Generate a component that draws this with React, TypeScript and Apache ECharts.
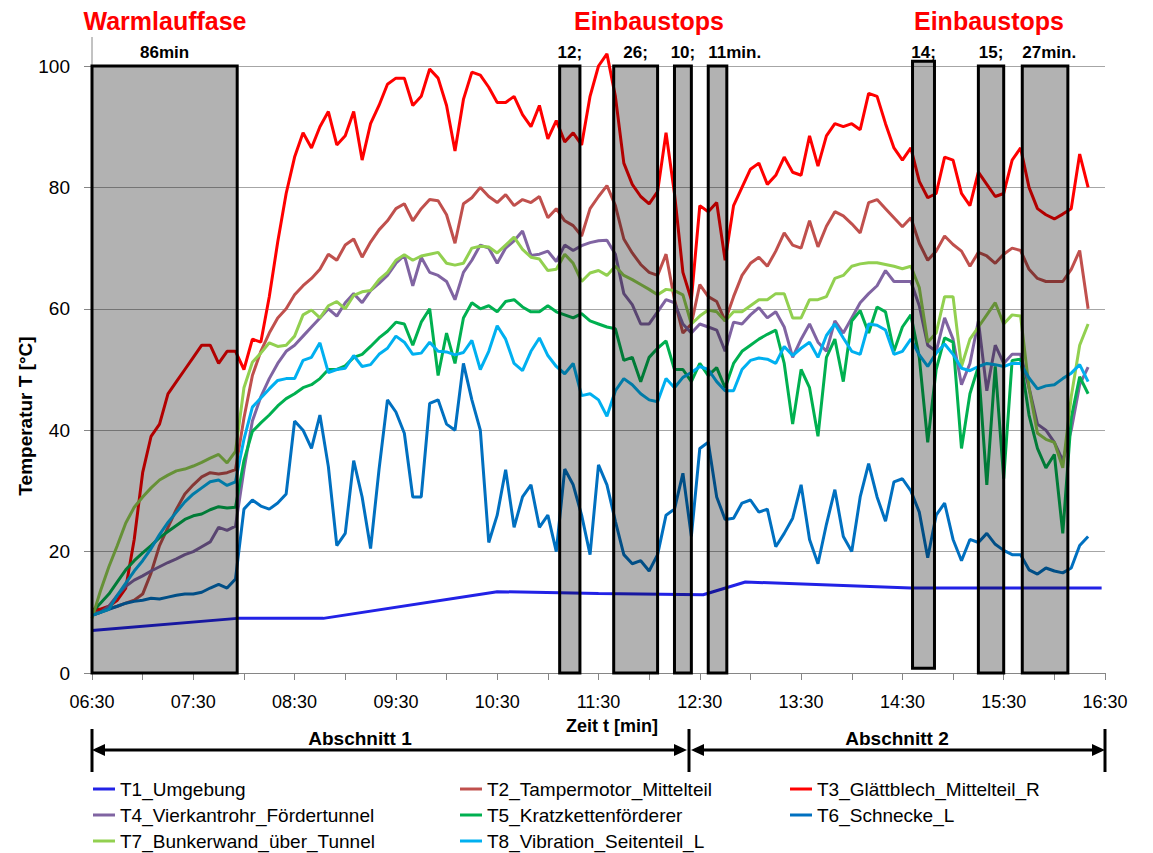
import React, { useEffect, useRef } from 'react';
import * as echarts from 'echarts';

const FONT = "'Liberation Sans', Arial, sans-serif";

// minutes after 06:30, 5-minute grid
const times: number[] = Array.from({ length: 119 }, (_, i) => i * 5);

const t1Times = [0, 86, 137, 240, 300, 362, 387, 485, 598];
const t1Values = [7, 9, 9, 13.4, 13.1, 12.9, 15, 14, 14];

const t2Values = [
  10, 10.3, 10.6, 11, 11.5, 12, 13, 16.5, 21, 24,
  27, 29.5, 31, 32.3, 33, 32.8, 33, 33.5, 42, 49,
  53, 56, 58.5, 60, 62.3, 63.8, 65, 66.5, 69, 68,
  70.5, 71.5, 68.5, 71, 73, 74.5, 76.5, 77.3, 74.5, 76.5,
  78, 77.8, 75.5, 70.8, 77.3, 78.3, 80, 78.5, 77.5, 78.8,
  77, 78, 77.5, 78.5, 75, 76.5, 74.5, 73.7, 72, 76.5,
  78.5, 80.3, 77, 71.5, 69.2, 67.3, 66, 65.5, 69, 61.5,
  56, 57.5, 64, 62, 61.2, 58, 62, 65.5, 67.5, 68.5,
  67, 69.5, 72.5, 70.5, 70, 74.5, 70.2, 73.6, 76, 75.3,
  74, 72.5, 77.5, 78, 76.5, 75, 73.5, 75, 70.8, 68,
  69.5, 72, 70.6, 69.5, 67, 69.3, 68.7, 67.5, 69, 70,
  69.6, 66.5, 65, 64.5, 64.5, 64.5, 66.5, 69.6, 60,
];

const t3Values = [
  10.5, 10.5, 11, 12, 14, 22, 33, 39, 41, 46,
  48, 50, 52, 54, 54, 51, 53, 53, 50, 55,
  54.5, 62, 71, 79, 85, 89, 86.5, 90, 92.5, 87,
  88.5, 92.5, 84.5, 90.5, 93.5, 97, 98, 98, 93.5, 95,
  99.5, 98, 93.5, 86, 94.5, 99, 98.5, 96.5, 94, 94,
  95, 92, 90, 93.5, 88, 91, 87.5, 89, 87, 95,
  100, 102, 95, 84, 80.5, 78.5, 77.3, 79.3, 89, 79,
  66, 61.5, 77, 76, 77.5, 68, 77, 80, 83, 84,
  80.5, 82, 85, 82.5, 82, 88.5, 83.5, 88.5, 90.5, 90,
  90.5, 89.5, 95.5, 95, 90.5, 86.5, 84.5, 86.5, 81, 78.3,
  79, 85, 84.5, 79, 77, 82.5, 80.5, 78.5, 79, 84.5,
  86.5, 80, 76.5, 75.5, 74.8, 75.6, 76.5, 85.5, 80,
];

const t4Values = [
  9.5, 10, 11, 12.8, 14.3, 15.3, 16, 16.8, 17.5, 18.2,
  18.8, 19.5, 20, 20.8, 21.6, 24, 23.5, 24.2, 33.5, 41.5,
  45.5, 48.5, 51, 53, 54, 55.5, 57, 58.5, 60, 58.8,
  61, 62.5, 61, 63, 64.2, 65.5, 67.5, 68.8, 63.8, 68.5,
  66, 65.5, 64.5, 61.5, 66, 68, 70.5, 70, 67.5, 70,
  71.2, 72.8, 68.8, 69, 69.5, 67.8, 70.5, 69.6, 70.4, 70.9,
  71.2, 71.3, 69, 62.5, 60.7, 57.5, 57.5, 59.5, 61.5, 61,
  57.5, 56, 57.5, 57, 56.5, 53, 57.8, 57.5, 59, 60.2,
  58.5, 59.5, 57, 52, 55, 57.5, 54.5, 53, 58, 56,
  58.5, 61, 62.5, 63.8, 66.3, 64.5, 64.5, 64.5, 60.5, 54,
  53, 58.5, 55, 47.5, 51, 58, 46.5, 54, 51, 52.5,
  52.5, 47, 41, 40, 38, 35, 40, 47.5, 50.4,
];

const t5Values = [
  10, 11.5, 13, 15, 17, 18.5, 19.8, 21, 22.3, 23.3,
  24.3, 25.3, 25.9, 26.2, 26.9, 27.4, 27.2, 27.3, 35, 39.8,
  41.2, 42.5, 44, 45.2, 46, 47, 47.5, 48.5, 50, 50,
  50.6, 52, 52.5, 53.8, 55.2, 56.3, 57.8, 57.5, 54, 57.8,
  60, 49, 56, 51, 58.5, 61, 60, 60.5, 59.5, 61.2,
  61.5, 60.3, 59.5, 59.5, 60.5, 59.5, 59, 58.5, 59.2, 58,
  57.5, 57, 56.7, 51.5, 52, 48, 52, 53.5, 54.7, 50,
  50, 48, 51, 49, 50.3, 47, 51, 53, 54, 55,
  55.8, 56.5, 51, 41, 50, 47, 39, 52, 55, 48,
  58, 59.7, 56, 60.3, 59.5, 53, 57, 59, 52, 38,
  50, 55.2, 54.5, 37, 46, 50.5, 31, 50.5, 32, 51.5,
  51.7, 42.5, 37, 33.8, 36, 23, 42, 48.8, 46,
];

const t6Values = [
  9.5, 10, 10.5, 11, 11.5, 11.8, 12, 12.3, 12.2, 12.5,
  12.8, 13, 13, 13.3, 14, 14.6, 14, 15.5, 27, 28.5,
  27.5, 27, 28, 29.5, 41.5, 40, 37, 42.5, 34, 21,
  23, 35, 29, 20.5, 33.5, 45, 43, 39.5, 29, 29,
  44.4, 45, 41, 40, 51, 45, 40, 21.5, 26, 33.5,
  24, 29, 31, 24, 26, 20, 33.6, 31, 26, 19.5,
  34.3, 31, 25, 19.5, 18, 18.5, 16.8, 19.5, 26, 27,
  32.9, 22.5, 37, 38, 29, 25.3, 25.5, 28, 28.5, 26.5,
  27, 20.8, 23, 25.5, 31, 22, 18, 24.5, 30.2, 22.5,
  20, 29, 34.5, 29, 25, 31.5, 32, 30, 26.5, 19,
  26, 28, 22, 18.5, 22, 21.5, 23, 21.2, 20.2, 19.5,
  19.5, 17, 16.3, 17.3, 16.8, 16.5, 17.3, 21, 22.5,
];

const t7Values = [
  9, 13.5, 17.5, 21, 24.7, 27.3, 29, 30.5, 31.8, 32.6,
  33.3, 33.6, 34.1, 34.7, 35.4, 36, 34.6, 36.5, 47, 51.2,
  52.7, 54.4, 53.8, 54, 55.5, 59, 59.8, 58.5, 60.5, 61.2,
  60, 62.2, 62.8, 63, 64.8, 66, 68, 68.9, 68, 68.7,
  69, 69.3, 67.5, 67.2, 67.5, 70, 70.3, 70.2, 69.2, 70.5,
  71.8, 69.8, 68.5, 68.2, 66.3, 66.5, 69, 67.5, 64.5, 65.9,
  66.3, 65.5, 67, 65.5, 64.8, 64, 63.2, 62.3, 63.2, 63,
  62.3, 57.5, 58.8, 59.8, 59.5, 58, 59.5, 59.5, 60.5, 61.5,
  61.5, 62.5, 62.5, 58.5, 58.5, 61.5, 61.5, 62, 65, 65.5,
  67, 67.4, 67.6, 67.6, 67.3, 67, 66.6, 67, 63.5, 54.5,
  56, 62, 62, 50.5, 55, 57, 59, 61, 57.5, 59,
  58.8, 47, 39.5, 38.5, 38, 33.8, 45.5, 54, 57.5,
];

const t8Values = [
  9.5, 10, 10.5, 12.8, 14.8, 16.8, 18.5, 20.5, 22.8, 24.8,
  26.5, 28.2, 29.5, 30.5, 31.5, 31.8, 30.9, 31.5, 38.5, 43.8,
  45.3, 46.8, 48.2, 48.5, 48.5, 51.5, 52, 54.4, 49.5, 50,
  50.2, 52.3, 50.5, 50.8, 52.5, 53.5, 55.5, 54.5, 52.5, 52.7,
  54.5, 53, 52.9, 52.4, 52.8, 54.8, 50, 53, 57.2, 55,
  51, 49.8, 53, 55.2, 52.3, 50.5, 49.3, 51, 45.7, 46,
  45, 42.3, 46.5, 48.5, 47.5, 46, 45, 44.7, 48.5, 47,
  48.7, 49.5, 50.5, 50, 48, 46.5, 46.5, 50, 51.5, 51.9,
  51.7, 51, 53.8, 52.3, 53.5, 54.5, 52, 55.6, 57.5, 55.2,
  53, 52.5, 57.5, 57.3, 56.5, 52.5, 53, 55, 52.4, 50.5,
  52.7, 54.2, 52.5, 50.2, 49.8, 50.5, 51, 50.8, 50.5, 51,
  51, 48.6, 46.8, 47.3, 47.5, 48.5, 49.4, 50.8, 48,
];

const seriesNames = [
  'T1_Umgebung',
  'T2_Tampermotor_Mittelteil',
  'T3_Glättblech_Mittelteil_R',
  'T4_Vierkantrohr_Fördertunnel',
  'T5_Kratzkettenförderer',
  'T6_Schnecke_L',
  'T7_Bunkerwand_über_Tunnel',
  'T8_Vibration_Seitenteil_L',
];
const seriesColors = ['#2222e6', '#c0504d', '#ff0000', '#8064a2', '#00b050', '#0070c0', '#92d050', '#00b0f0'];

// stop periods (minutes after 06:30), temperature range of the boxes
const stopStarts = [0, 277, 309, 345, 365, 486, 525, 551];
const stopEnds = [86, 289, 335, 355, 376, 499, 540, 578];
const stopLows = [0, 0, 0, 0, 0, 0.8, 0, 0];
const stopHighs = [100, 100, 100, 100, 100, 100.8, 100, 100];
const stopLabels = ['86min', '12;', '26;', '10;', '11min.', '14;', '15;', '27min.'];

const yTicks = { min: 0, max: 100, step: 20 };
const xRange = { min: 0, max: 600, step: 30 };

const fmtTime = (m: number) => {
  const total = 6 * 60 + 30 + m;
  const h = Math.floor(total / 60);
  const mm = total % 60;
  return `${String(h).padStart(2, '0')}:${String(mm).padStart(2, '0')}`;
};

export default function App() {
  const ref = useRef<HTMLDivElement>(null);
  useEffect(() => {
    if (!ref.current) return;
    const chart = echarts.init(ref.current, undefined, { renderer: 'svg' });
    const gridValues = [t2Values, t3Values, t4Values, t5Values, t6Values, t7Values, t8Values];
    const lineSeries: any[] = [
      {
        type: 'line',
        name: seriesNames[0],
        data: t1Times.map((t, i) => [t, t1Values[i]]),
        showSymbol: false,
        clip: false,
        lineStyle: { width: 3, color: seriesColors[0] },
        itemStyle: { color: seriesColors[0] },
        z: 2,
      },
      ...gridValues.map((vals, k) => ({
        type: 'line',
        name: seriesNames[k + 1],
        data: times.map((t, i) => [t, vals[i]]),
        showSymbol: false,
        clip: false,
        lineStyle: { width: 3, color: seriesColors[k + 1] },
        itemStyle: { color: seriesColors[k + 1] },
        z: 2,
      })),
    ];

    const stopSeries = {
      type: 'custom',
      name: 'stops',
      z: 5,
      silent: true,
      data: stopStarts.map((s, i) => [s, stopEnds[i], stopLows[i], stopHighs[i]]),
      encode: { x: [0, 1], y: [2, 3] },
      renderItem: (params: any, api: any) => {
        const i = params.dataIndex;
        const p0 = api.coord([api.value(0), api.value(3)]);
        const p1 = api.coord([api.value(1), api.value(2)]);
        const top = api.coord([api.value(0), 100]);
        const lab = stopLabels[i];
        const leftAlign = lab.indexOf('min.') >= 0;
        return {
          type: 'group',
          children: [
            {
              type: 'rect',
              shape: { x: p0[0], y: p0[1], width: p1[0] - p0[0], height: p1[1] - p0[1] },
              style: { fill: 'rgba(0,0,0,0.3)', stroke: '#000', lineWidth: 3 },
            },
            {
              type: 'text',
              x: leftAlign ? p0[0] : (p0[0] + p1[0]) / 2,
              y: top[1] - 5,
              style: {
                text: lab,
                fontSize: 17,
                fontWeight: 'bold',
                fontFamily: FONT,
                fill: '#000',
                textAlign: leftAlign ? 'left' : 'center',
                textVerticalAlign: 'bottom',
              },
            },
          ],
        };
      },
    };

    const legendBase = {
      orient: 'vertical',
      top: 779,
      itemGap: 6,
      itemWidth: 22,
      itemHeight: 3,
      icon: 'rect',
      padding: 0,
      selectedMode: false,
      textStyle: { fontSize: 19, color: '#000', fontFamily: FONT, lineHeight: 20 },
    };

    const boldText = (text: string, x: number, y: number, size: number, fill = '#000', rotation = 0) => ({
      type: 'text',
      x,
      y,
      rotation,
      silent: true,
      style: {
        text,
        fontSize: size,
        fontWeight: 'bold',
        fontFamily: FONT,
        fill,
        textAlign: 'center',
        textVerticalAlign: 'middle',
      },
    });
    const arrowLine = (x1: number, x2: number) => [
      { type: 'line', silent: true, shape: { x1: x1 + 6, y1: 750, x2: x2 - 6, y2: 750 }, style: { stroke: '#000', lineWidth: 3 } },
      { type: 'polygon', silent: true, shape: { points: [[x1, 750], [x1 + 13, 744], [x1 + 13, 756]] }, style: { fill: '#000' } },
      { type: 'polygon', silent: true, shape: { points: [[x2, 750], [x2 - 13, 744], [x2 - 13, 756]] }, style: { fill: '#000' } },
    ];
    const vbar = (x: number) => ({
      type: 'line',
      silent: true,
      shape: { x1: x, y1: 729, x2: x, y2: 772 },
      style: { stroke: '#000', lineWidth: 3 },
    });

    chart.setOption({
      animation: false,
      textStyle: { fontFamily: FONT },
      grid: { left: 92, right: 48, top: 66, bottom: 180 },
      xAxis: {
        type: 'value',
        min: xRange.min,
        max: xRange.max,
        interval: xRange.step,
        axisLine: { lineStyle: { color: '#868686', width: 1 } },
        axisTick: { show: true, length: 7, lineStyle: { color: '#868686' } },
        axisLabel: {
          color: '#000',
          fontSize: 18,
          margin: 20,
          formatter: (v: number) => (v % 60 === 0 ? fmtTime(v) : ''),
        },
        splitLine: { show: false },
      },
      yAxis: {
        type: 'value',
        min: yTicks.min,
        max: yTicks.max,
        interval: yTicks.step,
        axisLine: { show: true, lineStyle: { color: '#868686', width: 1 } },
        axisTick: { show: true, length: 8, lineStyle: { color: '#868686' } },
        axisLabel: { color: '#000', fontSize: 19, margin: 22 },
        splitLine: { show: true, lineStyle: { color: '#a6a6a6', width: 1 } },
      },
      legend: [
        { ...legendBase, left: 93, data: [seriesNames[0], seriesNames[3], seriesNames[6]] },
        { ...legendBase, left: 460, data: [seriesNames[1], seriesNames[4], seriesNames[7]] },
        { ...legendBase, left: 790, data: [seriesNames[2], seriesNames[5]] },
      ],
      series: [...lineSeries, stopSeries],
      graphic: [
        { type: 'line', silent: true, shape: { x1: 92, y1: 37, x2: 92, y2: 66 }, style: { stroke: '#868686', lineWidth: 1 } },
        boldText('Warmlauffase', 165, 21, 25, '#ff0000'),
        boldText('Einbaustops', 649, 21, 25, '#ff0000'),
        boldText('Einbaustops', 989, 21, 25, '#ff0000'),
        boldText('Temperatur T [°C]', 25, 416, 19, '#000', Math.PI / 2),
        boldText('Zeit t [min]', 612, 726, 18),
        boldText('Abschnitt 1', 360, 738, 19),
        boldText('Abschnitt 2', 897, 738, 19),
        ...arrowLine(92, 687),
        ...arrowLine(691, 1105),
        vbar(92),
        vbar(689),
        vbar(1105),
      ],
    });
    return () => chart.dispose();
  }, []);
  return <div ref={ref} style={{ position: 'absolute', left: 0, top: 0, width: 1153, height: 853 }} />;
}
